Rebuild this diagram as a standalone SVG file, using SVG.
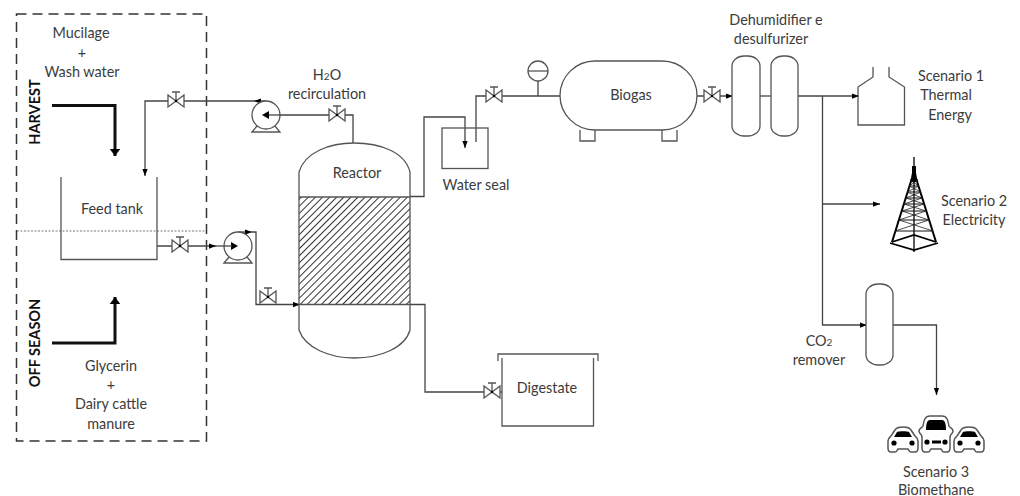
<svg xmlns="http://www.w3.org/2000/svg" width="1020" height="496" viewBox="0 0 1020 496">
<style>
text{font-family:Lato,"Liberation Sans",sans-serif;font-size:14.4px;fill:#3c3c3c;text-anchor:middle}
.b{font-weight:700;fill:#111;font-size:14.5px}
.s{font-size:10px}
.l{fill:none;stroke:#444;stroke-width:1.3}
.sh{fill:#fff;stroke:#555;stroke-width:1.3}
.o{fill:none;stroke:#555;stroke-width:1.3}
.a{marker-end:url(#ah)}
.t{fill:none;stroke:#111;stroke-width:3;marker-end:url(#tk)}
.k{fill:#000;stroke:none}
</style>
<defs>
<marker id="ah" markerUnits="userSpaceOnUse" viewBox="0 0 8 6" refX="8" refY="3" markerWidth="7" markerHeight="6" orient="auto"><path d="M0 0L8 3L0 6Z" fill="#000"/></marker>
<marker id="tk" markerUnits="userSpaceOnUse" viewBox="0 0 8 12" refX="8" refY="6" markerWidth="7" markerHeight="12" orient="auto"><path d="M0 0L8 6L0 12Z" fill="#000"/></marker>
<pattern id="hatch" width="5" height="5" patternUnits="userSpaceOnUse" patternTransform="rotate(45)"><rect width="5" height="5" fill="#fff"/><line x1="2.500" y1="0" x2="2.500" y2="5" stroke="#333" stroke-width="1"/></pattern>
<g id="valve"><path class="sh" d="M-8 -6L0 0L-8 6ZM8 -6L0 0L8 6Z"/><path class="o" d="M0 0V-9M-4 -9H4"/><circle r="1.200" fill="#000"/></g>
<g id="pump"><path class="sh" d="M-14 17L-9 11H9L14 17Z"/><circle r="14" class="sh"/></g>
<g id="car"><path d="M-15 8V1C-15 -2 -13 -3 -12 -4L-8 -10C-7 -12 -4 -13 0 -13C4 -13 7 -12 8 -10L12 -4C13 -3 15 -2 15 1V8C15 11 14 12 12 12H8C6 12 6 10 5 9H-5C-6 10 -6 12 -8 12H-12C-14 12 -15 11 -15 8Z" fill="#fff" stroke="#555" stroke-width="1.500"/><path class="k" d="M-9 -3L-6 -8C-5 -9 5 -9 6 -8L9 -3Z"/><circle cx="-9" cy="3" r="2.600" fill="#000"/><circle cx="9" cy="3" r="2.600" fill="#000"/></g>
</defs>
<rect width="1020" height="496" fill="#fff"/>

<g id="season-box">
<rect x="16.500" y="14" width="190" height="427" fill="none" stroke="#333" stroke-width="1.500" stroke-dasharray="10 6"/>
<line x1="17" y1="231" x2="205" y2="231" stroke="#777" stroke-width="1" stroke-dasharray="2 1.500"/>
<text class="b" transform="translate(40 112) rotate(-90)">HARVEST</text>
<text class="b" transform="translate(40 343) rotate(-90)">OFF SEASON</text>
</g>

<g id="connectors">
<path class="t" d="M52 105.500H115V156"/>
<path class="t" d="M52 343H115V297"/>
<path class="l a" d="M266 101H254"/>
<path class="l a" d="M254 101H145V176"/>
<path class="l a" d="M353 143V115H267"/>
<path class="l a" d="M157 246H216"/>
<path class="l a" d="M216 246H238"/>
<path class="l a" d="M238 232H252"/>
<path class="l a" d="M252 232H256V304.500H300"/>
<path class="l a" d="M410 196.500H424V117H465V148"/>
<path class="l" d="M476 142V96H560"/>
<path class="l" d="M538 81V96"/>
<path class="l a" d="M697 96H733"/>
<path class="l" d="M760 96H771"/>
<path class="l a" d="M798 96H859"/>
<path class="l a" d="M822.500 96V325H867"/>
<path class="l a" d="M822.500 204H880"/>
<path class="l a" d="M893 325H936.500V395"/>
<path class="l" d="M410 304.500H425V392H502"/>
</g>

<g id="feed-tank">
<path class="o" d="M61 177V259.500H157V177"/>
<text x="112" y="214">Feed tank</text>
</g>
<g id="valve-1"><use href="#valve" transform="translate(176 101)"/></g>
<g id="valve-2"><use href="#valve" transform="translate(180 246)"/></g>
<g id="valve-3"><use href="#valve" transform="translate(268 297)"/></g>
<g id="valve-4"><use href="#valve" transform="translate(337 115)"/></g>
<g id="valve-5"><use href="#valve" transform="translate(494 96)"/></g>
<g id="valve-6"><use href="#valve" transform="translate(712 96)"/></g>
<g id="valve-7"><use href="#valve" transform="translate(492 392)"/></g>
<g id="pump-1"><use href="#pump" transform="translate(266 115)"/><path class="k" d="M262 115L269 111V119Z"/><path class="l" d="M269 115H280"/></g>
<g id="pump-2"><use href="#pump" transform="translate(238 246)"/><path class="k" d="M238 246L231 242V250Z"/><path class="l" d="M224 246H232"/></g>

<g id="reactor">
<rect x="299" y="197" width="111" height="107.500" fill="url(#hatch)"/>
<path class="o" d="M299 304.500H410"/>
<path class="o" d="M299 197H410"/>
<path class="o" d="M299 197V172C305 152 330 143 354 143C380 143 405 152 410 172V197V304V330C405 348 380 358 354 358C330 358 305 348 299 330V197"/>
<text x="357" y="178">Reactor</text>
</g>
<g id="recirc-label"><text x="327" y="80">H<tspan class="s">2</tspan>O</text><text x="327" y="99">recirculation</text></g>

<g id="water-seal">
<rect x="442" y="128" width="46" height="40.500" fill="none" stroke="#555" stroke-width="1.300"/>
<text x="476" y="190">Water seal</text>
</g>
<g id="gauge"><circle cx="538" cy="71" r="10" class="sh"/><path class="o" d="M528 71H548"/></g>
<g id="biogas">
<path class="o" d="M580 130V141H595V130M662 130V141H677V130"/>
<rect x="560" y="61" width="137" height="69" rx="35" ry="34.500" class="sh"/>
<text x="631" y="100">Biogas</text>
</g>
<g id="dehumidifier">
<rect x="732" y="56" width="28" height="80" rx="12" ry="10" class="sh"/>
<rect x="771" y="56" width="27" height="80" rx="12" ry="10" class="sh"/>
<text x="776" y="25">Dehumidifier e</text><text x="771" y="44">desulfurizer</text>
</g>
<g id="scenario-1">
<path class="o" d="M873 67V77L858 87V125H904.500V87L889 77V67"/>
<text x="951" y="81">Scenario 1</text><text x="946" y="100">Thermal</text><text x="950" y="120">Energy</text>
</g>
<g id="scenario-2">
<path d="M914 157V252" fill="none" stroke="#222" stroke-width="1.500"/>
<path d="M914 168L912 178L892 242M914 168L916 178L936 242" fill="none" stroke="#000" stroke-width="2"/>
<path d="M892 242L914 235L936 242M890 243L914 250L938 243" fill="none" stroke="#000" stroke-width="1.800"/>
<path d="M910 180H918M909 186H919M907 192H921M906 198H922M904 204H924M902 211H926M899 220H929M895 231H933" fill="none" stroke="#111" stroke-width="1"/>
<path d="M910 180L919 186L907 192L922 198L904 204L926 211L899 220L933 231M918 180L909 186L921 192L906 198L924 204L902 211L929 220L895 231" fill="none" stroke="#222" stroke-width="0.800"/>
<path d="M914 166V182" stroke="#000" stroke-width="4"/>
<text x="974" y="206">Scenario 2</text><text x="974" y="225">Electricity</text>
</g>
<g id="co2-remover">
<rect x="866" y="284" width="27" height="81" rx="12" ry="10" class="sh"/>
<text x="819" y="346">CO<tspan class="s">2</tspan></text><text x="819" y="365">remover</text>
</g>
<g id="digestate">
<path class="o" d="M498 361V354H598V361"/>
<path class="o" d="M502 358V426H593.500V358"/>
<text x="547" y="393">Digestate</text>
</g>
<g id="scenario-3">
<use href="#car" transform="translate(903 440)"/>
<use href="#car" transform="translate(969 440)"/>
<path d="M922 448V437C922 434 919 434 919 431C919 428 922 428 923 426C924 420 925 416 930 416H942C947 416 948 420 949 426C950 428 953 428 953 431C953 434 950 434 950 437V448C950 451 949 452 947 452H944C942 452 942 450 941 449H931C930 450 930 452 928 452H925C923 452 922 451 922 448Z" fill="#fff" stroke="#555" stroke-width="1.500"/>
<path class="k" d="M926 430C926 424 927 420 930 420H942C945 420 946 424 946 430Z"/>
<circle cx="927" cy="442" r="2.600" fill="#000"/><circle cx="945" cy="442" r="2.600" fill="#000"/><rect x="932" y="440.500" width="9" height="3" fill="#000"/>
<text x="936" y="477">Scenario 3</text><text x="936" y="495">Biomethane</text>
</g>
<g id="harvest-label"><text x="81" y="38">Mucilage</text><text x="82" y="58">+</text><text x="82" y="77">Wash water</text></g>
<g id="offseason-label"><text x="111" y="371">Glycerin</text><text x="111" y="390">+</text><text x="111" y="409">Dairy cattle</text><text x="111" y="429">manure</text></g>
</svg>
